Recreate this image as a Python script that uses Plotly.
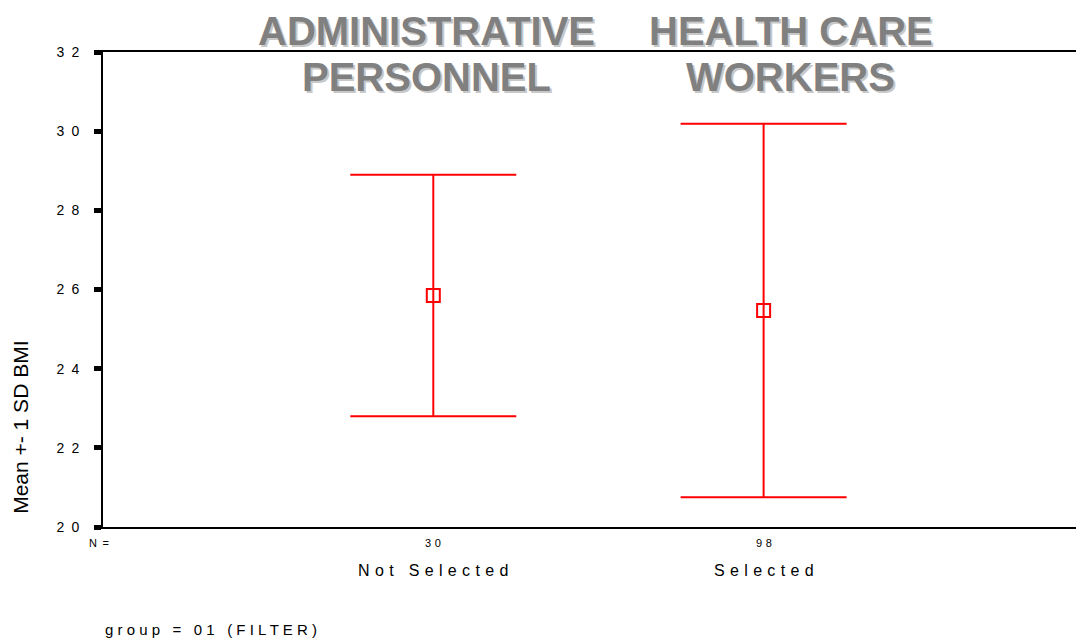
import plotly.graph_objects as go

# --- data ---
groups = ['Not Selected', 'Selected']
group_pos = [1, 2]
n_counts = ['30', '98']
bmi_mean = [25.85, 25.47]
bmi_sd = [3.05, 4.72]
y_ticks = [20, 22, 24, 26, 28, 30, 32]
title_left = ['ADMINISTRATIVE', 'PERSONNEL']
title_right = ['HEALTH CARE', 'WORKERS']
footer = 'group = 01 (FILTER)'
y_title = 'Mean +- 1 SD BMI'


def spaced(s, sep='\u2004'):
    # SPSS-style letter spacing
    return sep.join(list(s))


FONT = 'Liberation Sans, Arial, sans-serif'
RED = '#ff0000'

fig = go.Figure()

# error bars with mean markers
fig.add_trace(go.Scatter(
    x=group_pos, y=bmi_mean,
    mode='markers',
    marker=dict(symbol='square-open', size=13, color=RED, line=dict(width=2, color=RED)),
    error_y=dict(type='data', array=bmi_sd, visible=True, color=RED, thickness=2, width=83),
    showlegend=False, hoverinfo='skip',
))

# little dashes under the x axis at each category
fig.add_trace(go.Scatter(
    x=group_pos, y=[19.91] * len(group_pos),
    mode='markers', cliponaxis=False,
    marker=dict(symbol='line-ew', size=10, line=dict(width=3, color='black')),
    showlegend=False, hoverinfo='skip',
))

# page body has an 8px margin, so the figure is 8px smaller than the window
fig.update_layout(
    width=1076, height=631,
    margin=dict(l=95, r=0, t=44, b=112),
    paper_bgcolor='white', plot_bgcolor='white',
    font=dict(family=FONT, color='black'),
    showlegend=False,
)

fig.update_xaxes(
    range=[0, 2.97], showgrid=False, zeroline=False,
    showline=True, linecolor='black', linewidth=2, mirror=True,
    showticklabels=False, ticks='',
)
fig.update_yaxes(
    range=[20, 32], showgrid=False, zeroline=False,
    showline=True, linecolor='black', linewidth=2,
    tickvals=y_ticks, ticktext=[spaced(str(v), '\u2002') for v in y_ticks],
    ticks='outside', ticklen=7, tickwidth=5, tickcolor='black',
    tickfont=dict(size=14, family=FONT, color='black'),
    ticklabelstandoff=12,
)

shadow = '2px 2px 0px #c8c8c8'
title_font = dict(size=40, family=FONT, color='#808080', weight='bold', shadow=shadow)
for xc, lines in [(0.330, title_left), (0.701, title_right)]:
    for yc, txt in zip([1.044, 0.947], lines):
        fig.add_annotation(text=txt, x=xc, y=yc, xref='paper', yref='paper',
                           xanchor='center', yanchor='middle', showarrow=False,
                           font=title_font)

# N counts and group labels
fig.add_annotation(text='N\u2002=', x=-0.004, y=-0.0337, xref='paper', yref='paper',
                   xanchor='center', yanchor='middle', showarrow=False,
                   font=dict(size=11, family=FONT))
for xp, n, g in zip(group_pos, n_counts, groups):
    fig.add_annotation(text=spaced(n), x=xp, y=-0.0337, xref='x', yref='paper',
                       xanchor='center', yanchor='middle', showarrow=False,
                       font=dict(size=11, family=FONT))
    fig.add_annotation(text=spaced(g), x=xp, y=-0.0926, xref='x', yref='paper',
                       xanchor='center', yanchor='middle', showarrow=False,
                       font=dict(size=16, family=FONT))

fig.add_annotation(text=spaced(footer, ' '), x=0, y=-0.215, xref='paper', yref='paper',
                   xanchor='left', yanchor='middle', showarrow=False,
                   font=dict(size=15, family=FONT))

fig.add_annotation(text=y_title, x=-0.084, y=0.21, xref='paper', yref='paper',
                   xanchor='center', yanchor='middle', textangle=-90, showarrow=False,
                   font=dict(size=21, family=FONT))

fig.write_html('out.html')
